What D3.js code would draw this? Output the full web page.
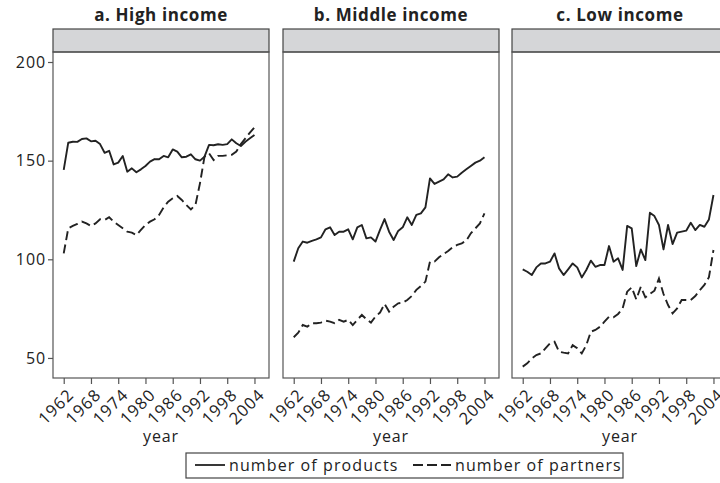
<!DOCTYPE html>
<html lang="en">
	<head>
		<meta charset="utf-8">
		<title>Products and partners by income group</title>
		<script type="text/javascript" src="https://cdn.jsdelivr.net/npm/d3@7"></script>
		<style type="text/css">
			body { margin: 0; background: #fff; }
			text { font-family: "Open Sans", Lato, sans-serif; fill: #222; letter-spacing: 0.9px; }
		</style>
	</head>
	<body>
	<script type="text/javascript">

	// data, one value per year 1962..2004
	var years = d3.range(1962, 2005);
	var panelTitles = ["a. High income", "b. Middle income", "c. Low income"];
	var xTicks = [1962, 1968, 1974, 1980, 1986, 1992, 1998, 2004];
	var yTicks = [50, 100, 150, 200];
	var seriesNames = ["number of products", "number of partners"];

	var highProducts = [145.3, 159.1, 159.6, 159.5, 161, 161.3, 159.8, 160.1, 158.4, 154, 155, 148.1, 149, 152.4, 144.4, 146.1, 144.1, 145.6, 147.3, 149.5, 150.8, 150.7, 152.4, 151.7, 155.7, 154.6, 151.7, 152, 153.2, 150.7, 150, 152, 158, 157.8, 158.3, 158, 158.4, 160.8, 158.8, 157.4, 159.6, 161.3, 163];
	var highPartners = [103, 115.7, 116.9, 117.9, 119.1, 118.2, 116.9, 118.2, 120.3, 119.9, 121.3, 119.1, 117.4, 115.7, 114, 113.5, 112.3, 114.9, 117.4, 119.1, 120.3, 122.5, 126.3, 129.2, 130.9, 132.1, 130.1, 127.5, 125.3, 127.5, 138.5, 152, 153.7, 150.3, 152.4, 152.4, 152.7, 153, 154.6, 158.4, 161.3, 164.2, 166.9];
	var middleProducts = [98.8, 105.6, 109, 108.4, 109.3, 110.1, 111.1, 115.2, 116.2, 112.3, 114, 114, 115.2, 110.1, 116.2, 117.4, 110.6, 111.1, 109, 114.9, 120.4, 114, 109.8, 114.4, 116.2, 121.3, 117.4, 122.5, 123.3, 126.3, 141, 138.2, 139.4, 140.5, 143.1, 141.5, 141.9, 143.9, 145.6, 147.3, 149, 150, 151.7];
	var middlePartners = [60.5, 62.8, 66.7, 65.9, 67.6, 67.6, 67.9, 68.9, 68.4, 67.6, 69.3, 68.4, 69.3, 66.7, 69.3, 71.8, 69.6, 67.9, 71, 73, 77.4, 73.5, 76, 77.7, 78, 79.4, 81.4, 84.5, 86.5, 88.7, 98.8, 98.8, 101, 102.7, 104.2, 106.1, 107.3, 108.1, 109.5, 113.2, 115.7, 118.2, 123.3];
	var lowProducts = [94.9, 93.7, 92, 95.9, 97.9, 97.9, 98.8, 103, 95.4, 92, 94.9, 97.9, 95.9, 90.8, 94.6, 99.3, 96.2, 97.1, 97.1, 106.7, 98.8, 100.5, 94.6, 116.9, 115.7, 96.6, 105, 99.6, 123.6, 121.9, 117.4, 105, 117.4, 107.7, 113.5, 114, 114.5, 118.5, 114.8, 117.4, 116.5, 120.2, 132.6];
	var lowPartners = [45.6, 47.3, 49.8, 51.5, 52.3, 54.9, 57.4, 58.2, 53.2, 52.7, 52.3, 56.5, 54.9, 52.3, 56.5, 63.3, 64.2, 65.8, 68.4, 70.9, 70.6, 72.3, 75.1, 83.6, 85.8, 79.7, 86.1, 80.7, 82.4, 84.1, 90.3, 82.4, 76.8, 72.6, 75.1, 79.4, 79.4, 79.4, 81.4, 84.4, 87, 90.9, 104.7];

	var productsByPanel = [highProducts, middleProducts, lowProducts];
	var partnersByPanel = [highPartners, middlePartners, lowPartners];

	// layout (the third panel runs a little past the right edge, as in the original)
	var W = 720, H = 483;
	var panelLeft = [53, 283, 512];
	var panelW = 216;
	var stripTop = 29, plotTop = 52, plotBottom = 378;
	var dash = "9,4.5";

	var svg = d3.select("body")
				.append("svg")
				.attr("width", W)
				.attr("height", H);

	var xScale = d3.scaleLinear()
		.domain([1959.64, 2007.2])
		.range([0, panelW]);

	var yScale = d3.scaleLinear()
		.domain([39.84, 205.07])
		.range([plotBottom, plotTop]);

	var line = d3.line()
		.x(function(d) { return xScale(d.year); })
		.y(function(d) { return yScale(d.value); });

	function toPoints(values) {
		return values.map(function(v, i) { return {year: years[i], value: v}; });
	}

	panelTitles.forEach(function(title, p) {
		var g = svg.append("g")
			.attr("transform", "translate(" + panelLeft[p] + ",0)");

		// title
		g.append("text")
			.attr("x", panelW / 2)
			.attr("y", 21)
			.style("text-anchor", "middle")
			.style("font-size", "17px")
			.style("font-weight", "bold")
			.style("letter-spacing", "0.6px")
			.text(title);

		// grey strip
		g.append("rect")
			.attr("x", 0)
			.attr("y", stripTop)
			.attr("width", panelW)
			.attr("height", plotTop - stripTop)
			.attr("fill", "#d5d6d8")
			.attr("stroke", "#444")
			.attr("stroke-width", 1.2);

		// plot frame
		g.append("rect")
			.attr("x", 0)
			.attr("y", plotTop)
			.attr("width", panelW)
			.attr("height", plotBottom - plotTop)
			.attr("fill", "none")
			.attr("stroke", "#555")
			.attr("stroke-width", 1.2);

		// lines
		g.append("path")
			.datum(toPoints(productsByPanel[p]))
			.attr("d", line)
			.attr("fill", "none")
			.attr("stroke", "#222")
			.attr("stroke-width", 1.9)
			.attr("stroke-linejoin", "round");

		g.append("path")
			.datum(toPoints(partnersByPanel[p]))
			.attr("d", line)
			.attr("fill", "none")
			.attr("stroke", "#222")
			.attr("stroke-width", 1.9)
			.attr("stroke-dasharray", dash);

		// x axis
		var xAxis = d3.axisBottom(xScale)
			.tickValues(xTicks)
			.tickFormat(d3.format("d"))
			.tickSizeOuter(0)
			.tickSize(6);

		var xg = g.append("g")
			.attr("transform", "translate(0," + plotBottom + ")")
			.call(xAxis);
		xg.select(".domain").remove();
		xg.selectAll("line").attr("stroke", "#555").attr("stroke-width", 1.2);
		xg.selectAll("text")
			.attr("fill", "#222")
			.style("font-family", "'Open Sans', sans-serif")
			.style("font-size", "16.5px")
			.style("letter-spacing", "1.1px")
			.style("text-anchor", "end")
			.attr("y", 0)
			.attr("dy", "0.75em")
			.attr("transform", "translate(2,9) rotate(-45)");

		g.append("text")
			.attr("x", panelW / 2)
			.attr("y", 442)
			.style("text-anchor", "middle")
			.style("font-size", "16px")
			.text("year");

		// y axis only on the first panel
		if (p === 0) {
			var yAxis = d3.axisLeft(yScale)
				.tickValues(yTicks)
				.tickSizeOuter(0)
				.tickSize(5);
			var yg = g.append("g").call(yAxis);
			yg.select(".domain").remove();
			yg.selectAll("line").attr("stroke", "#555").attr("stroke-width", 1.2);
			yg.selectAll("text")
				.attr("fill", "#222")
				.style("font-family", "'Open Sans', sans-serif")
				.style("font-size", "16px")
				.attr("x", -7);
		}
	});

	// legend
	var legend = svg.append("g");
	legend.append("rect")
		.attr("x", 186)
		.attr("y", 453)
		.attr("width", 437)
		.attr("height", 25)
		.attr("fill", "none")
		.attr("stroke", "#444")
		.attr("stroke-width", 1.2);

	var legendItems = [
		{name: seriesNames[0], x: 195, len: 30, dash: null},
		{name: seriesNames[1], x: 413, len: 38, dash: "10,4"}
	];
	legendItems.forEach(function(d) {
		legend.append("line")
			.attr("x1", d.x)
			.attr("x2", d.x + d.len)
			.attr("y1", 465)
			.attr("y2", 465)
			.attr("stroke", "#222")
			.attr("stroke-width", 1.8)
			.attr("stroke-dasharray", d.dash);
		legend.append("text")
			.attr("x", d.x + d.len + 4)
			.attr("y", 470.5)
			.style("font-size", "16px")
			.style("letter-spacing", "1.1px")
			.text(d.name);
	});

	</script>
	</body>
</html>
